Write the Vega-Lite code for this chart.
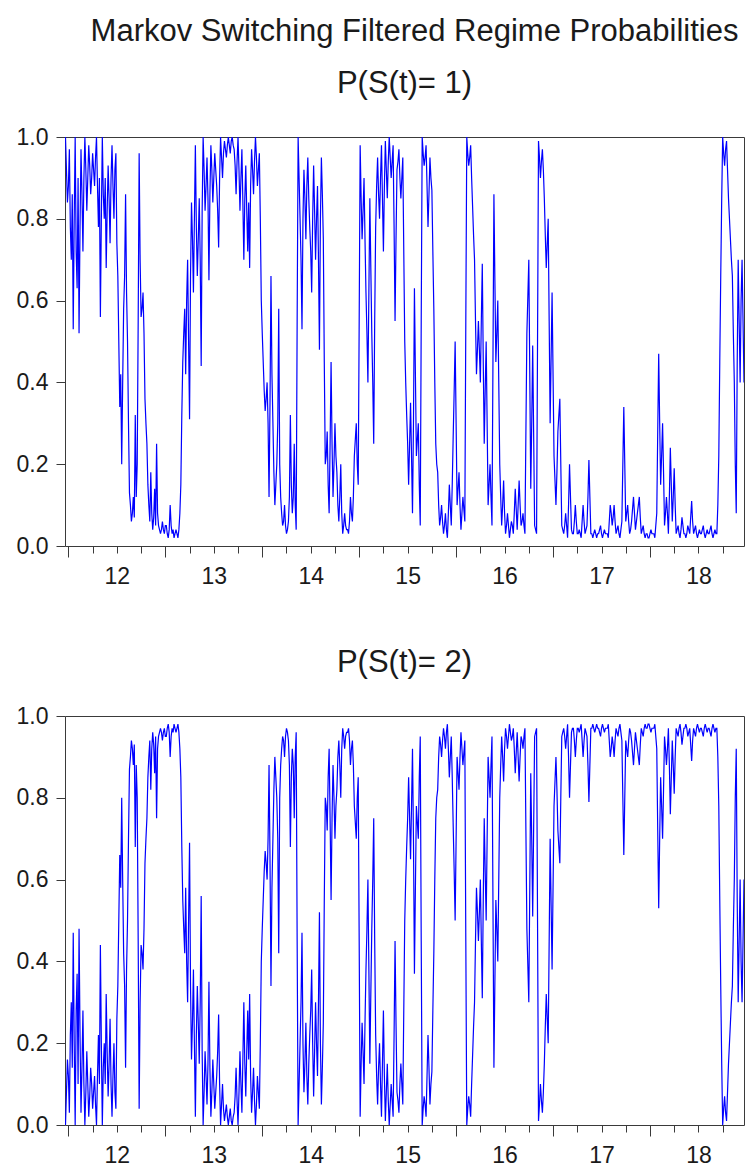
{
"$schema": "https://vega.github.io/schema/vega-lite/v6.json",
"background": "white",
"padding": {"left": 15, "top": 15, "right": 0, "bottom": 5},
"title": {"text": "Markov Switching Filtered Regime Probabilities", "fontSize": 31, "font": "Liberation Sans", "fontWeight": "normal", "color": "#1a1a1a", "anchor": "middle", "dx": 10, "offset": -4, "baseline": "alphabetic"},
"spacing": 53,
"datasets": {"msp": [
{"t":2011.97,"p1":1.0,"p2":0.0},{"t":2011.99,"p1":0.84,"p2":0.16},{"t":2012.01,"p1":0.97,"p2":0.03},{"t":2012.03,"p1":0.70,"p2":0.30},{"t":2012.05,"p1":0.53,"p2":0.47},{"t":2012.07,"p1":1.0,"p2":0.0},{"t":2012.09,"p1":0.63,"p2":0.37},{"t":2012.11,"p1":0.52,"p2":0.48},{"t":2012.13,"p1":0.97,"p2":0.03},{"t":2012.15,"p1":0.72,"p2":0.28},
{"t":2012.17,"p1":1.0,"p2":0.0},{"t":2012.19,"p1":0.82,"p2":0.18},{"t":2012.21,"p1":0.98,"p2":0.02},{"t":2012.23,"p1":0.86,"p2":0.14},{"t":2012.25,"p1":0.96,"p2":0.04},{"t":2012.27,"p1":0.88,"p2":0.12},{"t":2012.29,"p1":1.0,"p2":0.0},{"t":2012.31,"p1":0.78,"p2":0.22},{"t":2012.33,"p1":0.56,"p2":0.44},{"t":2012.35,"p1":1.0,"p2":0.0},
{"t":2012.37,"p1":0.80,"p2":0.20},{"t":2012.39,"p1":0.68,"p2":0.32},{"t":2012.41,"p1":0.93,"p2":0.07},{"t":2012.43,"p1":0.74,"p2":0.26},{"t":2012.45,"p1":0.98,"p2":0.02},{"t":2012.47,"p1":0.80,"p2":0.20},{"t":2012.49,"p1":0.96,"p2":0.04},{"t":2012.51,"p1":0.66,"p2":0.34},{"t":2012.53,"p1":0.34,"p2":0.66},{"t":2012.55,"p1":0.20,"p2":0.80},
{"t":2012.57,"p1":0.58,"p2":0.42},{"t":2012.59,"p1":0.86,"p2":0.14},{"t":2012.61,"p1":0.50,"p2":0.50},{"t":2012.63,"p1":0.13,"p2":0.87},{"t":2012.65,"p1":0.06,"p2":0.94},{"t":2012.67,"p1":0.12,"p2":0.88},{"t":2012.69,"p1":0.32,"p2":0.68},{"t":2012.71,"p1":0.20,"p2":0.80},{"t":2012.73,"p1":0.96,"p2":0.04},{"t":2012.75,"p1":0.56,"p2":0.44},
{"t":2012.77,"p1":0.62,"p2":0.38},{"t":2012.79,"p1":0.36,"p2":0.64},{"t":2012.81,"p1":0.25,"p2":0.75},{"t":2012.83,"p1":0.10,"p2":0.90},{"t":2012.85,"p1":0.18,"p2":0.82},{"t":2012.87,"p1":0.04,"p2":0.96},{"t":2012.89,"p1":0.14,"p2":0.86},{"t":2012.91,"p1":0.25,"p2":0.75},{"t":2012.93,"p1":0.05,"p2":0.95},{"t":2012.95,"p1":0.03,"p2":0.97},
{"t":2012.97,"p1":0.06,"p2":0.94},{"t":2012.99,"p1":0.03,"p2":0.97},{"t":2013.01,"p1":0.05,"p2":0.95},{"t":2013.03,"p1":0.02,"p2":0.98},{"t":2013.05,"p1":0.10,"p2":0.90},{"t":2013.07,"p1":0.03,"p2":0.97},{"t":2013.09,"p1":0.02,"p2":0.98},{"t":2013.11,"p1":0.04,"p2":0.96},{"t":2013.13,"p1":0.02,"p2":0.98},{"t":2013.15,"p1":0.08,"p2":0.92},
{"t":2013.17,"p1":0.32,"p2":0.68},{"t":2013.19,"p1":0.52,"p2":0.48},{"t":2013.21,"p1":0.42,"p2":0.58},{"t":2013.23,"p1":0.70,"p2":0.30},{"t":2013.25,"p1":0.31,"p2":0.69},{"t":2013.27,"p1":0.84,"p2":0.16},{"t":2013.29,"p1":0.62,"p2":0.38},{"t":2013.31,"p1":0.98,"p2":0.02},{"t":2013.33,"p1":0.66,"p2":0.34},{"t":2013.35,"p1":0.85,"p2":0.15},
{"t":2013.37,"p1":0.44,"p2":0.56},{"t":2013.39,"p1":1.0,"p2":0.0},{"t":2013.41,"p1":0.82,"p2":0.18},{"t":2013.43,"p1":0.95,"p2":0.05},{"t":2013.45,"p1":0.65,"p2":0.35},{"t":2013.47,"p1":0.98,"p2":0.02},{"t":2013.49,"p1":0.84,"p2":0.16},{"t":2013.51,"p1":0.96,"p2":0.04},{"t":2013.53,"p1":0.88,"p2":0.12},{"t":2013.55,"p1":0.73,"p2":0.27},
{"t":2013.57,"p1":1.0,"p2":0.0},{"t":2013.59,"p1":0.90,"p2":0.10},{"t":2013.61,"p1":0.99,"p2":0.01},{"t":2013.63,"p1":0.95,"p2":0.05},{"t":2013.65,"p1":1.0,"p2":0.0},{"t":2013.67,"p1":0.96,"p2":0.04},{"t":2013.69,"p1":1.0,"p2":0.0},{"t":2013.71,"p1":0.97,"p2":0.03},{"t":2013.73,"p1":0.86,"p2":0.14},{"t":2013.75,"p1":1.0,"p2":0.0},
{"t":2013.77,"p1":0.82,"p2":0.18},{"t":2013.79,"p1":0.97,"p2":0.03},{"t":2013.81,"p1":0.70,"p2":0.30},{"t":2013.83,"p1":0.93,"p2":0.07},{"t":2013.85,"p1":0.72,"p2":0.28},{"t":2013.87,"p1":0.68,"p2":0.32},{"t":2013.89,"p1":0.97,"p2":0.03},{"t":2013.91,"p1":0.86,"p2":0.14},{"t":2013.93,"p1":1.0,"p2":0.0},{"t":2013.95,"p1":0.88,"p2":0.12},
{"t":2013.97,"p1":0.96,"p2":0.04},{"t":2013.99,"p1":0.60,"p2":0.40},{"t":2014.01,"p1":0.45,"p2":0.55},{"t":2014.03,"p1":0.33,"p2":0.67},{"t":2014.05,"p1":0.40,"p2":0.60},{"t":2014.07,"p1":0.12,"p2":0.88},{"t":2014.09,"p1":0.66,"p2":0.34},{"t":2014.11,"p1":0.30,"p2":0.70},{"t":2014.13,"p1":0.10,"p2":0.90},{"t":2014.15,"p1":0.20,"p2":0.80},
{"t":2014.17,"p1":0.58,"p2":0.42},{"t":2014.19,"p1":0.12,"p2":0.88},{"t":2014.21,"p1":0.05,"p2":0.95},{"t":2014.23,"p1":0.10,"p2":0.90},{"t":2014.25,"p1":0.03,"p2":0.97},{"t":2014.27,"p1":0.06,"p2":0.94},{"t":2014.29,"p1":0.32,"p2":0.68},{"t":2014.31,"p1":0.08,"p2":0.92},{"t":2014.33,"p1":0.25,"p2":0.75},{"t":2014.35,"p1":0.04,"p2":0.96},
{"t":2014.37,"p1":1.0,"p2":0.0},{"t":2014.39,"p1":0.80,"p2":0.20},{"t":2014.41,"p1":0.53,"p2":0.47},{"t":2014.43,"p1":0.92,"p2":0.08},{"t":2014.45,"p1":0.75,"p2":0.25},{"t":2014.47,"p1":0.95,"p2":0.05},{"t":2014.49,"p1":0.78,"p2":0.22},{"t":2014.51,"p1":0.62,"p2":0.38},{"t":2014.53,"p1":0.93,"p2":0.07},{"t":2014.55,"p1":0.70,"p2":0.30},
{"t":2014.57,"p1":0.88,"p2":0.12},{"t":2014.59,"p1":0.48,"p2":0.52},{"t":2014.61,"p1":0.95,"p2":0.05},{"t":2014.63,"p1":0.75,"p2":0.25},{"t":2014.65,"p1":0.20,"p2":0.80},{"t":2014.67,"p1":0.28,"p2":0.72},{"t":2014.69,"p1":0.08,"p2":0.92},{"t":2014.71,"p1":0.45,"p2":0.55},{"t":2014.73,"p1":0.12,"p2":0.88},{"t":2014.75,"p1":0.30,"p2":0.70},
{"t":2014.77,"p1":0.18,"p2":0.82},{"t":2014.79,"p1":0.06,"p2":0.94},{"t":2014.81,"p1":0.20,"p2":0.80},{"t":2014.83,"p1":0.03,"p2":0.97},{"t":2014.85,"p1":0.08,"p2":0.92},{"t":2014.87,"p1":0.04,"p2":0.96},{"t":2014.89,"p1":0.03,"p2":0.97},{"t":2014.91,"p1":0.12,"p2":0.88},{"t":2014.93,"p1":0.06,"p2":0.94},{"t":2014.95,"p1":0.22,"p2":0.78},
{"t":2014.97,"p1":0.30,"p2":0.70},{"t":2014.99,"p1":0.15,"p2":0.85},{"t":2015.01,"p1":0.98,"p2":0.02},{"t":2015.03,"p1":0.75,"p2":0.25},{"t":2015.05,"p1":0.90,"p2":0.10},{"t":2015.07,"p1":0.62,"p2":0.38},{"t":2015.09,"p1":0.40,"p2":0.60},{"t":2015.11,"p1":0.85,"p2":0.15},{"t":2015.13,"p1":0.52,"p2":0.48},{"t":2015.15,"p1":0.25,"p2":0.75},
{"t":2015.17,"p1":0.78,"p2":0.22},{"t":2015.19,"p1":0.95,"p2":0.05},{"t":2015.21,"p1":0.80,"p2":0.20},{"t":2015.23,"p1":0.98,"p2":0.02},{"t":2015.25,"p1":0.72,"p2":0.28},{"t":2015.27,"p1":0.99,"p2":0.01},{"t":2015.29,"p1":0.85,"p2":0.15},{"t":2015.31,"p1":1.0,"p2":0.0},{"t":2015.33,"p1":0.90,"p2":0.10},{"t":2015.35,"p1":0.98,"p2":0.02},
{"t":2015.37,"p1":0.55,"p2":0.45},{"t":2015.39,"p1":0.92,"p2":0.08},{"t":2015.41,"p1":0.97,"p2":0.03},{"t":2015.43,"p1":0.85,"p2":0.15},{"t":2015.45,"p1":0.95,"p2":0.05},{"t":2015.47,"p1":0.50,"p2":0.50},{"t":2015.49,"p1":0.32,"p2":0.68},{"t":2015.51,"p1":0.15,"p2":0.85},{"t":2015.53,"p1":0.35,"p2":0.65},{"t":2015.55,"p1":0.08,"p2":0.92},
{"t":2015.57,"p1":0.63,"p2":0.37},{"t":2015.59,"p1":0.22,"p2":0.78},{"t":2015.61,"p1":0.30,"p2":0.70},{"t":2015.63,"p1":0.05,"p2":0.95},{"t":2015.65,"p1":1.0,"p2":0.0},{"t":2015.67,"p1":0.93,"p2":0.07},{"t":2015.69,"p1":0.98,"p2":0.02},{"t":2015.71,"p1":0.78,"p2":0.22},{"t":2015.73,"p1":0.95,"p2":0.05},{"t":2015.75,"p1":0.87,"p2":0.13},
{"t":2015.77,"p1":0.58,"p2":0.42},{"t":2015.79,"p1":0.25,"p2":0.75},{"t":2015.81,"p1":0.18,"p2":0.82},{"t":2015.83,"p1":0.05,"p2":0.95},{"t":2015.85,"p1":0.10,"p2":0.90},{"t":2015.87,"p1":0.03,"p2":0.97},{"t":2015.89,"p1":0.08,"p2":0.92},{"t":2015.91,"p1":0.02,"p2":0.98},{"t":2015.93,"p1":0.15,"p2":0.85},{"t":2015.95,"p1":0.05,"p2":0.95},
{"t":2015.97,"p1":0.27,"p2":0.73},{"t":2015.99,"p1":0.50,"p2":0.50},{"t":2016.01,"p1":0.10,"p2":0.90},{"t":2016.03,"p1":0.18,"p2":0.82},{"t":2016.05,"p1":0.04,"p2":0.96},{"t":2016.07,"p1":0.12,"p2":0.88},{"t":2016.09,"p1":0.06,"p2":0.94},{"t":2016.11,"p1":1.0,"p2":0.0},{"t":2016.13,"p1":0.93,"p2":0.07},{"t":2016.15,"p1":0.98,"p2":0.02},
{"t":2016.17,"p1":0.83,"p2":0.17},{"t":2016.19,"p1":0.70,"p2":0.30},{"t":2016.21,"p1":0.42,"p2":0.58},{"t":2016.23,"p1":0.55,"p2":0.45},{"t":2016.25,"p1":0.40,"p2":0.60},{"t":2016.27,"p1":0.69,"p2":0.31},{"t":2016.29,"p1":0.25,"p2":0.75},{"t":2016.31,"p1":0.50,"p2":0.50},{"t":2016.33,"p1":0.10,"p2":0.90},{"t":2016.35,"p1":0.20,"p2":0.80},
{"t":2016.37,"p1":0.05,"p2":0.95},{"t":2016.39,"p1":0.86,"p2":0.14},{"t":2016.41,"p1":0.45,"p2":0.55},{"t":2016.43,"p1":0.60,"p2":0.40},{"t":2016.45,"p1":0.20,"p2":0.80},{"t":2016.47,"p1":0.05,"p2":0.95},{"t":2016.49,"p1":0.16,"p2":0.84},{"t":2016.51,"p1":0.03,"p2":0.97},{"t":2016.53,"p1":0.08,"p2":0.92},{"t":2016.55,"p1":0.02,"p2":0.98},
{"t":2016.57,"p1":0.06,"p2":0.94},{"t":2016.59,"p1":0.03,"p2":0.97},{"t":2016.61,"p1":0.14,"p2":0.86},{"t":2016.63,"p1":0.04,"p2":0.96},{"t":2016.65,"p1":0.16,"p2":0.84},{"t":2016.67,"p1":0.05,"p2":0.95},{"t":2016.69,"p1":0.08,"p2":0.92},{"t":2016.71,"p1":0.03,"p2":0.97},{"t":2016.73,"p1":0.52,"p2":0.48},{"t":2016.75,"p1":0.70,"p2":0.30},
{"t":2016.77,"p1":0.14,"p2":0.86},{"t":2016.79,"p1":0.49,"p2":0.51},{"t":2016.81,"p1":0.05,"p2":0.95},{"t":2016.83,"p1":0.03,"p2":0.97},{"t":2016.85,"p1":0.99,"p2":0.01},{"t":2016.87,"p1":0.90,"p2":0.10},{"t":2016.89,"p1":0.97,"p2":0.03},{"t":2016.91,"p1":0.85,"p2":0.15},{"t":2016.93,"p1":0.68,"p2":0.32},{"t":2016.95,"p1":0.80,"p2":0.20},
{"t":2016.97,"p1":0.30,"p2":0.70},{"t":2016.99,"p1":0.62,"p2":0.38},{"t":2017.01,"p1":0.22,"p2":0.78},{"t":2017.03,"p1":0.10,"p2":0.90},{"t":2017.05,"p1":0.28,"p2":0.72},{"t":2017.07,"p1":0.36,"p2":0.64},{"t":2017.09,"p1":0.05,"p2":0.95},{"t":2017.11,"p1":0.03,"p2":0.97},{"t":2017.13,"p1":0.08,"p2":0.92},{"t":2017.15,"p1":0.02,"p2":0.98},
{"t":2017.17,"p1":0.20,"p2":0.80},{"t":2017.19,"p1":0.04,"p2":0.96},{"t":2017.21,"p1":0.03,"p2":0.97},{"t":2017.23,"p1":0.10,"p2":0.90},{"t":2017.25,"p1":0.03,"p2":0.97},{"t":2017.27,"p1":0.04,"p2":0.96},{"t":2017.29,"p1":0.02,"p2":0.98},{"t":2017.31,"p1":0.10,"p2":0.90},{"t":2017.33,"p1":0.03,"p2":0.97},{"t":2017.35,"p1":0.05,"p2":0.95},
{"t":2017.37,"p1":0.21,"p2":0.79},{"t":2017.39,"p1":0.03,"p2":0.97},{"t":2017.41,"p1":0.02,"p2":0.98},{"t":2017.43,"p1":0.04,"p2":0.96},{"t":2017.45,"p1":0.02,"p2":0.98},{"t":2017.47,"p1":0.03,"p2":0.97},{"t":2017.49,"p1":0.05,"p2":0.95},{"t":2017.51,"p1":0.02,"p2":0.98},{"t":2017.53,"p1":0.04,"p2":0.96},{"t":2017.55,"p1":0.03,"p2":0.97},
{"t":2017.57,"p1":0.02,"p2":0.98},{"t":2017.59,"p1":0.10,"p2":0.90},{"t":2017.61,"p1":0.05,"p2":0.95},{"t":2017.63,"p1":0.10,"p2":0.90},{"t":2017.65,"p1":0.03,"p2":0.97},{"t":2017.67,"p1":0.05,"p2":0.95},{"t":2017.69,"p1":0.02,"p2":0.98},{"t":2017.71,"p1":0.06,"p2":0.94},{"t":2017.73,"p1":0.34,"p2":0.66},{"t":2017.75,"p1":0.06,"p2":0.94},
{"t":2017.77,"p1":0.10,"p2":0.90},{"t":2017.79,"p1":0.03,"p2":0.97},{"t":2017.81,"p1":0.06,"p2":0.94},{"t":2017.83,"p1":0.12,"p2":0.88},{"t":2017.85,"p1":0.04,"p2":0.96},{"t":2017.87,"p1":0.08,"p2":0.92},{"t":2017.89,"p1":0.12,"p2":0.88},{"t":2017.91,"p1":0.03,"p2":0.97},{"t":2017.93,"p1":0.05,"p2":0.95},{"t":2017.95,"p1":0.02,"p2":0.98},
{"t":2017.97,"p1":0.03,"p2":0.97},{"t":2017.99,"p1":0.02,"p2":0.98},{"t":2018.01,"p1":0.04,"p2":0.96},{"t":2018.03,"p1":0.03,"p2":0.97},{"t":2018.05,"p1":0.02,"p2":0.98},{"t":2018.07,"p1":0.08,"p2":0.92},{"t":2018.09,"p1":0.47,"p2":0.53},{"t":2018.11,"p1":0.15,"p2":0.85},{"t":2018.13,"p1":0.30,"p2":0.70},{"t":2018.15,"p1":0.05,"p2":0.95},
{"t":2018.17,"p1":0.12,"p2":0.88},{"t":2018.19,"p1":0.03,"p2":0.97},{"t":2018.21,"p1":0.24,"p2":0.76},{"t":2018.23,"p1":0.06,"p2":0.94},{"t":2018.25,"p1":0.19,"p2":0.81},{"t":2018.27,"p1":0.03,"p2":0.97},{"t":2018.29,"p1":0.05,"p2":0.95},{"t":2018.31,"p1":0.02,"p2":0.98},{"t":2018.33,"p1":0.07,"p2":0.93},{"t":2018.35,"p1":0.03,"p2":0.97},
{"t":2018.37,"p1":0.02,"p2":0.98},{"t":2018.39,"p1":0.05,"p2":0.95},{"t":2018.41,"p1":0.03,"p2":0.97},{"t":2018.43,"p1":0.11,"p2":0.89},{"t":2018.45,"p1":0.03,"p2":0.97},{"t":2018.47,"p1":0.05,"p2":0.95},{"t":2018.49,"p1":0.02,"p2":0.98},{"t":2018.51,"p1":0.04,"p2":0.96},{"t":2018.53,"p1":0.03,"p2":0.97},{"t":2018.55,"p1":0.05,"p2":0.95},
{"t":2018.57,"p1":0.02,"p2":0.98},{"t":2018.59,"p1":0.04,"p2":0.96},{"t":2018.61,"p1":0.03,"p2":0.97},{"t":2018.63,"p1":0.05,"p2":0.95},{"t":2018.65,"p1":0.02,"p2":0.98},{"t":2018.67,"p1":0.04,"p2":0.96},{"t":2018.69,"p1":0.03,"p2":0.97},{"t":2018.71,"p1":0.22,"p2":0.78},{"t":2018.73,"p1":0.66,"p2":0.34},{"t":2018.75,"p1":1.0,"p2":0.0},
{"t":2018.77,"p1":0.93,"p2":0.07},{"t":2018.79,"p1":0.99,"p2":0.01},{"t":2018.81,"p1":0.85,"p2":0.15},{"t":2018.83,"p1":0.75,"p2":0.25},{"t":2018.85,"p1":0.66,"p2":0.34},{"t":2018.87,"p1":0.40,"p2":0.60},{"t":2018.89,"p1":0.08,"p2":0.92},{"t":2018.91,"p1":0.70,"p2":0.30},{"t":2018.93,"p1":0.40,"p2":0.60},{"t":2018.95,"p1":0.70,"p2":0.30},
{"t":2018.97,"p1":0.40,"p2":0.60},
{"t":2011.98,"p1":0.92,"p2":0.08},{"t":2012.00,"p1":0.88,"p2":0.12},{"t":2012.02,"p1":0.78,"p2":0.22},{"t":2012.04,"p1":0.86,"p2":0.14},{"t":2012.06,"p1":0.80,"p2":0.20},{"t":2012.08,"p1":0.72,"p2":0.28},{"t":2012.10,"p1":0.90,"p2":0.10},{"t":2012.12,"p1":0.78,"p2":0.22},{"t":2012.14,"p1":0.86,"p2":0.14},{"t":2012.16,"p1":0.90,"p2":0.10},
{"t":2012.18,"p1":0.92,"p2":0.08},{"t":2012.20,"p1":0.90,"p2":0.10},{"t":2012.22,"p1":0.93,"p2":0.07},{"t":2012.24,"p1":0.90,"p2":0.10},{"t":2012.26,"p1":0.92,"p2":0.08},{"t":2012.28,"p1":0.95,"p2":0.05},{"t":2012.30,"p1":0.88,"p2":0.12},{"t":2012.32,"p1":0.90,"p2":0.10},{"t":2012.34,"p1":0.80,"p2":0.20},{"t":2012.36,"p1":0.86,"p2":0.14},
{"t":2012.38,"p1":0.90,"p2":0.10},{"t":2012.40,"p1":0.82,"p2":0.18},{"t":2012.42,"p1":0.85,"p2":0.15},{"t":2012.44,"p1":0.90,"p2":0.10},{"t":2012.46,"p1":0.88,"p2":0.12},{"t":2012.48,"p1":0.92,"p2":0.08},{"t":2012.50,"p1":0.74,"p2":0.26},{"t":2012.52,"p1":0.50,"p2":0.50},{"t":2012.54,"p1":0.42,"p2":0.58},{"t":2012.56,"p1":0.40,"p2":0.60},
{"t":2012.58,"p1":0.66,"p2":0.34},{"t":2012.60,"p1":0.62,"p2":0.38},{"t":2012.62,"p1":0.30,"p2":0.70},{"t":2012.64,"p1":0.10,"p2":0.90},{"t":2012.66,"p1":0.08,"p2":0.92},{"t":2012.68,"p1":0.07,"p2":0.93},{"t":2012.70,"p1":0.12,"p2":0.88},{"t":2012.72,"p1":0.55,"p2":0.45},{"t":2012.74,"p1":0.70,"p2":0.30},{"t":2012.76,"p1":0.58,"p2":0.42},
{"t":2012.78,"p1":0.52,"p2":0.48},{"t":2012.80,"p1":0.30,"p2":0.70},{"t":2012.82,"p1":0.15,"p2":0.85},{"t":2012.84,"p1":0.06,"p2":0.94},{"t":2012.86,"p1":0.08,"p2":0.92},{"t":2012.88,"p1":0.07,"p2":0.93},{"t":2012.90,"p1":0.05,"p2":0.95},{"t":2012.92,"p1":0.08,"p2":0.92},{"t":2012.94,"p1":0.04,"p2":0.96},{"t":2012.96,"p1":0.04,"p2":0.96},
{"t":2012.98,"p1":0.04,"p2":0.96},{"t":2013.00,"p1":0.05,"p2":0.95},{"t":2013.02,"p1":0.03,"p2":0.97},{"t":2013.04,"p1":0.04,"p2":0.96},{"t":2013.06,"p1":0.05,"p2":0.95},{"t":2013.08,"p1":0.04,"p2":0.96},{"t":2013.10,"p1":0.03,"p2":0.97},{"t":2013.12,"p1":0.03,"p2":0.97},{"t":2013.14,"p1":0.04,"p2":0.96},{"t":2013.16,"p1":0.15,"p2":0.85},
{"t":2013.18,"p1":0.45,"p2":0.55},{"t":2013.20,"p1":0.58,"p2":0.42},{"t":2013.22,"p1":0.60,"p2":0.40},{"t":2013.24,"p1":0.50,"p2":0.50},{"t":2013.26,"p1":0.66,"p2":0.34},{"t":2013.28,"p1":0.75,"p2":0.25},{"t":2013.30,"p1":0.80,"p2":0.20},{"t":2013.32,"p1":0.78,"p2":0.22},{"t":2013.34,"p1":0.75,"p2":0.25},{"t":2013.36,"p1":0.70,"p2":0.30},
{"t":2013.38,"p1":0.82,"p2":0.18},{"t":2013.40,"p1":0.92,"p2":0.08},{"t":2013.42,"p1":0.88,"p2":0.12},{"t":2013.44,"p1":0.85,"p2":0.15},{"t":2013.46,"p1":0.86,"p2":0.14},{"t":2013.48,"p1":0.92,"p2":0.08},{"t":2013.50,"p1":0.90,"p2":0.10},{"t":2013.52,"p1":0.92,"p2":0.08},{"t":2013.54,"p1":0.82,"p2":0.18},{"t":2013.56,"p1":0.90,"p2":0.10},
{"t":2013.58,"p1":0.95,"p2":0.05},{"t":2013.60,"p1":0.96,"p2":0.04},{"t":2013.62,"p1":0.97,"p2":0.03},{"t":2013.64,"p1":0.98,"p2":0.02},{"t":2013.66,"p1":0.98,"p2":0.02},{"t":2013.68,"p1":0.99,"p2":0.01},{"t":2013.70,"p1":0.98,"p2":0.02},{"t":2013.72,"p1":0.93,"p2":0.07},{"t":2013.74,"p1":0.94,"p2":0.06},{"t":2013.76,"p1":0.92,"p2":0.08},
{"t":2013.78,"p1":0.90,"p2":0.10},{"t":2013.80,"p1":0.84,"p2":0.16},{"t":2013.82,"p1":0.85,"p2":0.15},{"t":2013.84,"p1":0.82,"p2":0.18},{"t":2013.86,"p1":0.84,"p2":0.16},{"t":2013.88,"p1":0.88,"p2":0.12},{"t":2013.90,"p1":0.92,"p2":0.08},{"t":2013.92,"p1":0.94,"p2":0.06},{"t":2013.94,"p1":0.95,"p2":0.05},{"t":2013.96,"p1":0.92,"p2":0.08},
{"t":2013.98,"p1":0.80,"p2":0.20},{"t":2014.00,"p1":0.52,"p2":0.48},{"t":2014.02,"p1":0.38,"p2":0.62},{"t":2014.04,"p1":0.36,"p2":0.64},{"t":2014.06,"p1":0.30,"p2":0.70},{"t":2014.08,"p1":0.35,"p2":0.65},{"t":2014.10,"p1":0.42,"p2":0.58},{"t":2014.12,"p1":0.18,"p2":0.82},{"t":2014.14,"p1":0.15,"p2":0.85},{"t":2014.16,"p1":0.30,"p2":0.70},
{"t":2014.18,"p1":0.20,"p2":0.80},{"t":2014.20,"p1":0.08,"p2":0.92},{"t":2014.22,"p1":0.06,"p2":0.94},{"t":2014.24,"p1":0.05,"p2":0.95},{"t":2014.26,"p1":0.04,"p2":0.96},{"t":2014.28,"p1":0.12,"p2":0.88},{"t":2014.30,"p1":0.15,"p2":0.85},{"t":2014.32,"p1":0.12,"p2":0.88},{"t":2014.34,"p1":0.10,"p2":0.90},{"t":2014.36,"p1":0.55,"p2":0.45},
{"t":2014.38,"p1":0.90,"p2":0.10},{"t":2014.40,"p1":0.70,"p2":0.30},{"t":2014.42,"p1":0.80,"p2":0.20},{"t":2014.44,"p1":0.85,"p2":0.15},{"t":2014.46,"p1":0.88,"p2":0.12},{"t":2014.48,"p1":0.85,"p2":0.15},{"t":2014.50,"p1":0.72,"p2":0.28},{"t":2014.52,"p1":0.80,"p2":0.20},{"t":2014.54,"p1":0.82,"p2":0.18},{"t":2014.56,"p1":0.80,"p2":0.20},
{"t":2014.58,"p1":0.70,"p2":0.30},{"t":2014.60,"p1":0.80,"p2":0.20},{"t":2014.62,"p1":0.86,"p2":0.14},{"t":2014.64,"p1":0.45,"p2":0.55},{"t":2014.66,"p1":0.22,"p2":0.78},{"t":2014.68,"p1":0.15,"p2":0.85},{"t":2014.70,"p1":0.25,"p2":0.75},{"t":2014.72,"p1":0.25,"p2":0.75},{"t":2014.74,"p1":0.20,"p2":0.80},{"t":2014.76,"p1":0.22,"p2":0.78},
{"t":2014.78,"p1":0.10,"p2":0.90},{"t":2014.80,"p1":0.12,"p2":0.88},{"t":2014.82,"p1":0.08,"p2":0.92},{"t":2014.84,"p1":0.05,"p2":0.95},{"t":2014.86,"p1":0.05,"p2":0.95},{"t":2014.88,"p1":0.04,"p2":0.96},{"t":2014.90,"p1":0.06,"p2":0.94},{"t":2014.92,"p1":0.08,"p2":0.92},{"t":2014.94,"p1":0.12,"p2":0.88},{"t":2014.96,"p1":0.26,"p2":0.74},
{"t":2014.98,"p1":0.20,"p2":0.80},{"t":2015.00,"p1":0.55,"p2":0.45},{"t":2015.02,"p1":0.85,"p2":0.15},{"t":2015.04,"p1":0.82,"p2":0.18},{"t":2015.06,"p1":0.75,"p2":0.25},{"t":2015.08,"p1":0.52,"p2":0.48},{"t":2015.10,"p1":0.62,"p2":0.38},{"t":2015.12,"p1":0.68,"p2":0.32},{"t":2015.14,"p1":0.40,"p2":0.60},{"t":2015.16,"p1":0.55,"p2":0.45},
{"t":2015.18,"p1":0.88,"p2":0.12},{"t":2015.20,"p1":0.86,"p2":0.14},{"t":2015.22,"p1":0.90,"p2":0.10},{"t":2015.24,"p1":0.85,"p2":0.15},{"t":2015.26,"p1":0.88,"p2":0.12},{"t":2015.28,"p1":0.92,"p2":0.08},{"t":2015.30,"p1":0.94,"p2":0.06},{"t":2015.32,"p1":0.95,"p2":0.05},{"t":2015.34,"p1":0.94,"p2":0.06},{"t":2015.36,"p1":0.78,"p2":0.22},
{"t":2015.38,"p1":0.75,"p2":0.25},{"t":2015.40,"p1":0.94,"p2":0.06},{"t":2015.42,"p1":0.90,"p2":0.10},{"t":2015.44,"p1":0.90,"p2":0.10},{"t":2015.46,"p1":0.72,"p2":0.28},{"t":2015.48,"p1":0.40,"p2":0.60},{"t":2015.50,"p1":0.25,"p2":0.75},{"t":2015.52,"p1":0.25,"p2":0.75},{"t":2015.54,"p1":0.22,"p2":0.78},{"t":2015.56,"p1":0.30,"p2":0.70},
{"t":2015.58,"p1":0.42,"p2":0.58},{"t":2015.60,"p1":0.26,"p2":0.74},{"t":2015.62,"p1":0.15,"p2":0.85},{"t":2015.64,"p1":0.55,"p2":0.45},{"t":2015.66,"p1":0.96,"p2":0.04},{"t":2015.68,"p1":0.95,"p2":0.05},{"t":2015.70,"p1":0.88,"p2":0.12},{"t":2015.72,"p1":0.86,"p2":0.14},{"t":2015.74,"p1":0.90,"p2":0.10},{"t":2015.76,"p1":0.72,"p2":0.28},
{"t":2015.78,"p1":0.40,"p2":0.60},{"t":2015.80,"p1":0.20,"p2":0.80},{"t":2015.82,"p1":0.10,"p2":0.90},{"t":2015.84,"p1":0.07,"p2":0.93},{"t":2015.86,"p1":0.06,"p2":0.94},{"t":2015.88,"p1":0.05,"p2":0.95},{"t":2015.90,"p1":0.04,"p2":0.96},{"t":2015.92,"p1":0.08,"p2":0.92},{"t":2015.94,"p1":0.10,"p2":0.90},{"t":2015.96,"p1":0.15,"p2":0.85},
{"t":2015.98,"p1":0.38,"p2":0.62},{"t":2016.00,"p1":0.30,"p2":0.70},{"t":2016.02,"p1":0.14,"p2":0.86},{"t":2016.04,"p1":0.10,"p2":0.90},{"t":2016.06,"p1":0.08,"p2":0.92},{"t":2016.08,"p1":0.09,"p2":0.91},{"t":2016.10,"p1":0.55,"p2":0.45},{"t":2016.12,"p1":0.96,"p2":0.04},{"t":2016.14,"p1":0.95,"p2":0.05},{"t":2016.16,"p1":0.90,"p2":0.10},
{"t":2016.18,"p1":0.76,"p2":0.24},{"t":2016.20,"p1":0.55,"p2":0.45},{"t":2016.22,"p1":0.48,"p2":0.52},{"t":2016.24,"p1":0.48,"p2":0.52},{"t":2016.26,"p1":0.55,"p2":0.45},{"t":2016.28,"p1":0.45,"p2":0.55},{"t":2016.30,"p1":0.38,"p2":0.62},{"t":2016.32,"p1":0.30,"p2":0.70},{"t":2016.34,"p1":0.15,"p2":0.85},{"t":2016.36,"p1":0.12,"p2":0.88},
{"t":2016.38,"p1":0.45,"p2":0.55},{"t":2016.40,"p1":0.65,"p2":0.35},{"t":2016.42,"p1":0.52,"p2":0.48},{"t":2016.44,"p1":0.40,"p2":0.60},{"t":2016.46,"p1":0.12,"p2":0.88},{"t":2016.48,"p1":0.10,"p2":0.90},{"t":2016.50,"p1":0.08,"p2":0.92},{"t":2016.52,"p1":0.05,"p2":0.95},{"t":2016.54,"p1":0.05,"p2":0.95},{"t":2016.56,"p1":0.04,"p2":0.96},
{"t":2016.58,"p1":0.05,"p2":0.95},{"t":2016.60,"p1":0.08,"p2":0.92},{"t":2016.62,"p1":0.09,"p2":0.91},{"t":2016.64,"p1":0.10,"p2":0.90},{"t":2016.66,"p1":0.10,"p2":0.90},{"t":2016.68,"p1":0.06,"p2":0.94},{"t":2016.70,"p1":0.05,"p2":0.95},{"t":2016.72,"p1":0.28,"p2":0.72},{"t":2016.74,"p1":0.61,"p2":0.39},{"t":2016.76,"p1":0.42,"p2":0.58},
{"t":2016.78,"p1":0.30,"p2":0.70},{"t":2016.80,"p1":0.27,"p2":0.73},{"t":2016.82,"p1":0.04,"p2":0.96},{"t":2016.84,"p1":0.50,"p2":0.50},{"t":2016.86,"p1":0.95,"p2":0.05},{"t":2016.88,"p1":0.94,"p2":0.06},{"t":2016.90,"p1":0.92,"p2":0.08},{"t":2016.92,"p1":0.76,"p2":0.24},{"t":2016.94,"p1":0.74,"p2":0.26},{"t":2016.96,"p1":0.55,"p2":0.45},
{"t":2016.98,"p1":0.46,"p2":0.54},{"t":2017.00,"p1":0.42,"p2":0.58},{"t":2017.02,"p1":0.16,"p2":0.84},{"t":2017.04,"p1":0.18,"p2":0.82},{"t":2017.06,"p1":0.32,"p2":0.68},{"t":2017.08,"p1":0.20,"p2":0.80},{"t":2017.10,"p1":0.04,"p2":0.96},{"t":2017.12,"p1":0.05,"p2":0.95},{"t":2017.14,"p1":0.05,"p2":0.95},{"t":2017.16,"p1":0.10,"p2":0.90},
{"t":2017.18,"p1":0.12,"p2":0.88},{"t":2017.20,"p1":0.03,"p2":0.97},{"t":2017.22,"p1":0.06,"p2":0.94},{"t":2017.24,"p1":0.06,"p2":0.94},{"t":2017.26,"p1":0.03,"p2":0.97},{"t":2017.28,"p1":0.03,"p2":0.97},{"t":2017.30,"p1":0.06,"p2":0.94},{"t":2017.32,"p1":0.06,"p2":0.94},{"t":2017.34,"p1":0.04,"p2":0.96},{"t":2017.36,"p1":0.12,"p2":0.88},
{"t":2017.38,"p1":0.12,"p2":0.88},{"t":2017.40,"p1":0.03,"p2":0.97},{"t":2017.42,"p1":0.03,"p2":0.97},{"t":2017.44,"p1":0.03,"p2":0.97},{"t":2017.46,"p1":0.03,"p2":0.97},{"t":2017.48,"p1":0.04,"p2":0.96},{"t":2017.50,"p1":0.03,"p2":0.97},{"t":2017.52,"p1":0.03,"p2":0.97},{"t":2017.54,"p1":0.03,"p2":0.97},{"t":2017.56,"p1":0.03,"p2":0.97},
{"t":2017.58,"p1":0.06,"p2":0.94},{"t":2017.60,"p1":0.08,"p2":0.92},{"t":2017.62,"p1":0.07,"p2":0.93},{"t":2017.64,"p1":0.06,"p2":0.94},{"t":2017.66,"p1":0.04,"p2":0.96},{"t":2017.68,"p1":0.03,"p2":0.97},{"t":2017.70,"p1":0.04,"p2":0.96},{"t":2017.72,"p1":0.20,"p2":0.80},{"t":2017.74,"p1":0.20,"p2":0.80},{"t":2017.76,"p1":0.08,"p2":0.92},
{"t":2017.78,"p1":0.06,"p2":0.94},{"t":2017.80,"p1":0.04,"p2":0.96},{"t":2017.82,"p1":0.09,"p2":0.91},{"t":2017.84,"p1":0.08,"p2":0.92},{"t":2017.86,"p1":0.06,"p2":0.94},{"t":2017.88,"p1":0.10,"p2":0.90},{"t":2017.90,"p1":0.07,"p2":0.93},{"t":2017.92,"p1":0.04,"p2":0.96},{"t":2017.94,"p1":0.03,"p2":0.97},{"t":2017.96,"p1":0.03,"p2":0.97},
{"t":2017.98,"p1":0.02,"p2":0.98},{"t":2018.00,"p1":0.03,"p2":0.97},{"t":2018.02,"p1":0.03,"p2":0.97},{"t":2018.04,"p1":0.03,"p2":0.97},{"t":2018.06,"p1":0.05,"p2":0.95},{"t":2018.08,"p1":0.28,"p2":0.72},{"t":2018.10,"p1":0.30,"p2":0.70},{"t":2018.12,"p1":0.22,"p2":0.78},{"t":2018.14,"p1":0.18,"p2":0.82},{"t":2018.16,"p1":0.08,"p2":0.92},
{"t":2018.18,"p1":0.08,"p2":0.92},{"t":2018.20,"p1":0.12,"p2":0.88},{"t":2018.22,"p1":0.15,"p2":0.85},{"t":2018.24,"p1":0.12,"p2":0.88},{"t":2018.26,"p1":0.10,"p2":0.90},{"t":2018.28,"p1":0.04,"p2":0.96},{"t":2018.30,"p1":0.03,"p2":0.97},{"t":2018.32,"p1":0.04,"p2":0.96},{"t":2018.34,"p1":0.05,"p2":0.95},{"t":2018.36,"p1":0.03,"p2":0.97},
{"t":2018.38,"p1":0.03,"p2":0.97},{"t":2018.40,"p1":0.04,"p2":0.96},{"t":2018.42,"p1":0.07,"p2":0.93},{"t":2018.44,"p1":0.06,"p2":0.94},{"t":2018.46,"p1":0.04,"p2":0.96},{"t":2018.48,"p1":0.03,"p2":0.97},{"t":2018.50,"p1":0.03,"p2":0.97},{"t":2018.52,"p1":0.03,"p2":0.97},{"t":2018.54,"p1":0.04,"p2":0.96},{"t":2018.56,"p1":0.03,"p2":0.97},
{"t":2018.58,"p1":0.03,"p2":0.97},{"t":2018.60,"p1":0.03,"p2":0.97},{"t":2018.62,"p1":0.04,"p2":0.96},{"t":2018.64,"p1":0.03,"p2":0.97},{"t":2018.66,"p1":0.03,"p2":0.97},{"t":2018.68,"p1":0.03,"p2":0.97},{"t":2018.70,"p1":0.10,"p2":0.90},{"t":2018.72,"p1":0.45,"p2":0.55},{"t":2018.74,"p1":0.85,"p2":0.15},{"t":2018.76,"p1":0.96,"p2":0.04},
{"t":2018.78,"p1":0.97,"p2":0.03},{"t":2018.80,"p1":0.92,"p2":0.08},{"t":2018.82,"p1":0.80,"p2":0.20},{"t":2018.84,"p1":0.70,"p2":0.30},{"t":2018.86,"p1":0.52,"p2":0.48},{"t":2018.88,"p1":0.20,"p2":0.80},{"t":2018.90,"p1":0.45,"p2":0.55},{"t":2018.92,"p1":0.55,"p2":0.45},{"t":2018.94,"p1":0.60,"p2":0.40},{"t":2018.96,"p1":0.55,"p2":0.45}
]},
"vconcat": [
{
"data": {"name": "msp"},
"width": 679, "height": 409,
"title": {"text": "P(S(t)= 1)", "offset": 26},
"mark": {"type": "line", "color": "#0000ff", "strokeWidth": 1.2, "clip": true},
"encoding": {
"x": {"field": "t", "type": "quantitative", "title": null, "scale": {"domain": [2011.965, 2018.97], "nice": false, "zero": false},
"axis": {"values": [2012,2012.25,2012.5,2012.75,2013,2013.25,2013.5,2013.75,2014,2014.25,2014.5,2014.75,2015,2015.25,2015.5,2015.75,2016,2016.25,2016.5,2016.75,2017,2017.25,2017.5,2017.75,2018,2018.25,2018.5,2018.75],
"labelExpr": "datum.value % 1 == 0.5 ? '' + (floor(datum.value) - 2000) : ''",
"tickSize": {"condition": {"test": "datum.value % 1 == 0", "value": 11}, "value": 7},
"labelPadding": 12, "labelOverlap": false, "labelFlush": false}},
"y": {"field": "p1", "type": "quantitative", "title": null, "scale": {"domain": [0, 1], "nice": false, "zero": false},
"axis": {"values": [0, 0.2, 0.4, 0.6, 0.8, 1], "format": ".1f", "tickSize": 9, "labelPadding": 8}}
}
},
{
"data": {"name": "msp"},
"width": 679, "height": 409,
"title": {"text": "P(S(t)= 2)", "offset": 26},
"mark": {"type": "line", "color": "#0000ff", "strokeWidth": 1.2, "clip": true},
"encoding": {
"x": {"field": "t", "type": "quantitative", "title": null, "scale": {"domain": [2011.965, 2018.97], "nice": false, "zero": false},
"axis": {"values": [2012,2012.25,2012.5,2012.75,2013,2013.25,2013.5,2013.75,2014,2014.25,2014.5,2014.75,2015,2015.25,2015.5,2015.75,2016,2016.25,2016.5,2016.75,2017,2017.25,2017.5,2017.75,2018,2018.25,2018.5,2018.75],
"labelExpr": "datum.value % 1 == 0.5 ? '' + (floor(datum.value) - 2000) : ''",
"tickSize": {"condition": {"test": "datum.value % 1 == 0", "value": 11}, "value": 7},
"labelPadding": 12, "labelOverlap": false, "labelFlush": false}},
"y": {"field": "p2", "type": "quantitative", "title": null, "scale": {"domain": [0, 1], "nice": false, "zero": false},
"axis": {"values": [0, 0.2, 0.4, 0.6, 0.8, 1], "format": ".1f", "tickSize": 9, "labelPadding": 8}}
}
}
],
"config": {
"view": {"stroke": "#3a3a3a", "strokeWidth": 1},
"axis": {"labelFont": "Liberation Sans", "labelFontSize": 23, "labelColor": "#1a1a1a", "tickColor": "#3a3a3a", "tickWidth": 1, "domain": false, "grid": false},
"title": {"font": "Liberation Sans", "fontSize": 31, "fontWeight": "normal", "color": "#1a1a1a", "anchor": "middle", "frame": "group", "baseline": "alphabetic"}
}
}
